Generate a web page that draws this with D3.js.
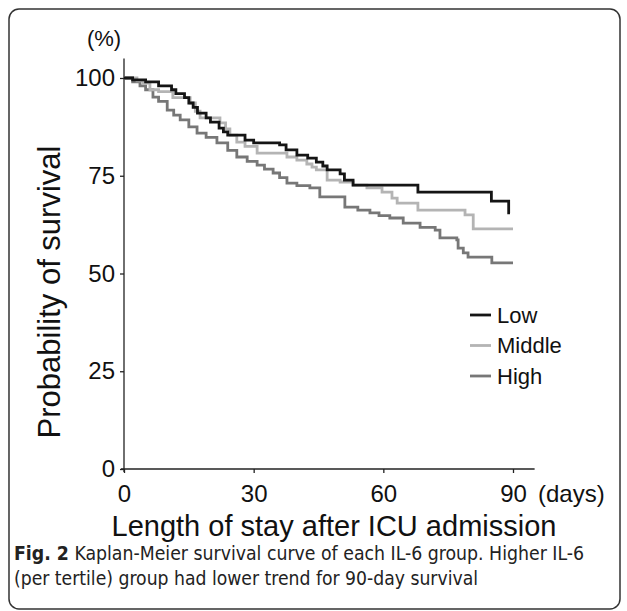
<!DOCTYPE html>
<html>
<head>
<meta charset="utf-8">
<script src="https://cdn.jsdelivr.net/npm/d3@7"></script>
<style>
  body { margin: 0; background: #fff; }
  svg { display: block; }
</style>
</head>
<body>
<svg id="chart"></svg>
<script>
const width = 627;
const height = 611;

// Kaplan-Meier steps: [day, survival %]
const lowSteps = [
  [0, 100], [2, 99.5], [5, 99], [8, 98], [11, 97], [12, 96], [14, 95], [15, 93.6],
  [16, 92.5], [17, 91], [19, 89.8], [20, 88.7], [22, 87.2], [23, 86.2], [24, 85.4],
  [28, 84.1], [30, 83.4], [36, 82.9], [37.5, 81.6], [40, 80.3], [42.5, 79.5],
  [44.5, 78.5], [46, 77.5], [47, 76.5], [50, 75.5], [51, 73.9], [53, 72.6],
  [68, 70.8], [85, 68.5], [89, 65.5], [89.3, 65.5]
];
const middleSteps = [
  [0, 100], [3, 99.3], [4.4, 98.7], [6, 97], [8, 96.5], [11.3, 95], [15.3, 93.6],
  [16.5, 91.5], [17.6, 89.8], [22.2, 88.5], [23.5, 87], [24.5, 85.4], [26.1, 83.6],
  [28, 82.5], [30.8, 80.8], [37.7, 79.8], [40, 79], [42.3, 78], [43.5, 77.2],
  [44.5, 76.5], [47, 73.9], [50, 73.4], [53, 72.6], [56.2, 71.9], [59.7, 70.8],
  [62, 69.3], [63.2, 68], [68, 66.2], [78.9, 65], [80.8, 61.4], [90, 61.4]
];
const highSteps = [
  [0, 100], [2, 99], [3.7, 98], [5, 97], [6.7, 95.1], [8, 94], [10, 91.8],
  [11.5, 90.5], [13, 89.3], [15, 87.5], [16.9, 85.9], [19, 84.8], [21.5, 83.4],
  [24, 81.5], [26.1, 79.8], [28.5, 78.7], [30.8, 77.7], [32.5, 76.7], [34.5, 75.7],
  [36, 74.5], [37.7, 73.1], [40, 72.5], [43, 71.9], [45.3, 69.6], [51.1, 67],
  [54.1, 66.2], [56.9, 65.5], [59, 64.8], [61.5, 64.2], [64.6, 62.9], [68.5, 61.8],
  [72, 61.1], [73.1, 59.1], [77, 58.6], [77.3, 56.5], [78.5, 55.3], [79.6, 54.2],
  [85.1, 52.7], [90, 52.7]
];

const groupNames = ["Low", "Middle", "High"];
const groupColors = ["#151515", "#b4b4b4", "#777777"];
const xTicks = [0, 30, 60, 90];
const yTicks = [0, 25, 50, 75, 100];

const series = [lowSteps, middleSteps, highSteps];

const svg = d3.select("#chart")
  .attr("width", width)
  .attr("height", height);

// figure frame
svg.append("rect")
  .attr("x", 9)
  .attr("y", 9)
  .attr("width", 611)
  .attr("height", 600)
  .attr("rx", 10)
  .attr("fill", "none")
  .attr("stroke", "#333")
  .attr("stroke-width", 1.5);

const xScale = d3.scaleLinear().domain([0, 90]).range([124, 513]);
const yScale = d3.scaleLinear().domain([0, 100]).range([469, 78]);

const font = "Liberation Sans, Arial, sans-serif";

// axes lines
svg.append("line")
  .attr("x1", xScale(0) - 3).attr("x2", xScale(95))
  .attr("y1", yScale(0)).attr("y2", yScale(0))
  .attr("stroke", "#222").attr("stroke-width", 1.3);
svg.append("line")
  .attr("x1", xScale(0)).attr("x2", xScale(0))
  .attr("y1", yScale(0) + 3).attr("y2", yScale(105))
  .attr("stroke", "#222").attr("stroke-width", 1.3);

const xAxis = d3.axisBottom(xScale).tickValues(xTicks).tickSize(4).tickSizeOuter(0).tickPadding(12);
const yAxis = d3.axisLeft(yScale).tickValues(yTicks).tickSize(4).tickSizeOuter(0).tickPadding(5);

const gx = svg.append("g")
  .attr("transform", "translate(0," + yScale(0) + ")")
  .call(xAxis);
gx.select(".domain").remove();
gx.selectAll("line").attr("stroke", "#222").attr("stroke-width", 1.3);
gx.selectAll("text").attr("font-family", font).attr("font-size", 24).attr("fill", "#111");

const gy = svg.append("g")
  .attr("transform", "translate(" + xScale(0) + ",0)")
  .call(yAxis);
gy.select(".domain").remove();
gy.selectAll("line").attr("stroke", "#222").attr("stroke-width", 1.3);
gy.selectAll("text").attr("font-family", font).attr("font-size", 24).attr("fill", "#111");

// unit labels
svg.append("text")
  .attr("x", 104).attr("y", 46)
  .attr("text-anchor", "middle")
  .attr("font-family", font).attr("font-size", 22).attr("fill", "#111")
  .text("(%)");
svg.append("text")
  .attr("x", 538).attr("y", 502)
  .attr("font-family", font).attr("font-size", 24).attr("fill", "#111")
  .text("(days)");

// axis titles
svg.append("text")
  .attr("x", 334).attr("y", 536)
  .attr("text-anchor", "middle")
  .attr("font-family", font).attr("font-size", 29).attr("fill", "#111")
  .text("Length of stay after ICU admission");
svg.append("text")
  .attr("transform", "translate(60,292) rotate(-90)")
  .attr("text-anchor", "middle")
  .attr("font-family", font).attr("font-size", 31).attr("fill", "#111")
  .text("Probability of survival");

// survival curves, Low drawn last so it sits on top
const line = d3.line()
  .x(d => xScale(d[0]))
  .y(d => yScale(d[1]))
  .curve(d3.curveStepAfter);

const order = [2, 1, 0];
svg.append("g")
  .selectAll("path")
  .data(order)
  .enter()
  .append("path")
  .attr("d", i => line(series[i]))
  .attr("fill", "none")
  .attr("stroke", i => groupColors[i])
  .attr("stroke-width", 2.8);

// legend
const legend = svg.append("g");
groupNames.forEach((name, i) => {
  const y = 315 + i * 30.5;
  legend.append("line")
    .attr("x1", 470).attr("x2", 491)
    .attr("y1", y).attr("y2", y)
    .attr("stroke", groupColors[i])
    .attr("stroke-width", 2.8);
  legend.append("text")
    .attr("x", 497).attr("y", y)
    .attr("dy", "0.36em")
    .attr("font-family", font).attr("font-size", 22).attr("fill", "#111")
    .text(name);
});

// caption
const capFont = "Liberation Sans Narrow, DejaVu Sans Condensed, Open Sans, sans-serif";
const cap1 = svg.append("text")
  .attr("x", 14).attr("y", 560)
  .attr("font-family", capFont).attr("font-size", 19).attr("fill", "#222")
  .attr("textLength", 570).attr("lengthAdjust", "spacingAndGlyphs");
cap1.append("tspan").attr("font-weight", "bold").text("Fig. 2");
cap1.append("tspan").text(" Kaplan-Meier survival curve of each IL-6 group. Higher IL-6");
svg.append("text")
  .attr("x", 14).attr("y", 585)
  .attr("font-family", capFont).attr("font-size", 19).attr("fill", "#222")
  .attr("textLength", 464).attr("lengthAdjust", "spacingAndGlyphs")
  .text("(per tertile) group had lower trend for 90-day survival");
</script>
</body>
</html>
